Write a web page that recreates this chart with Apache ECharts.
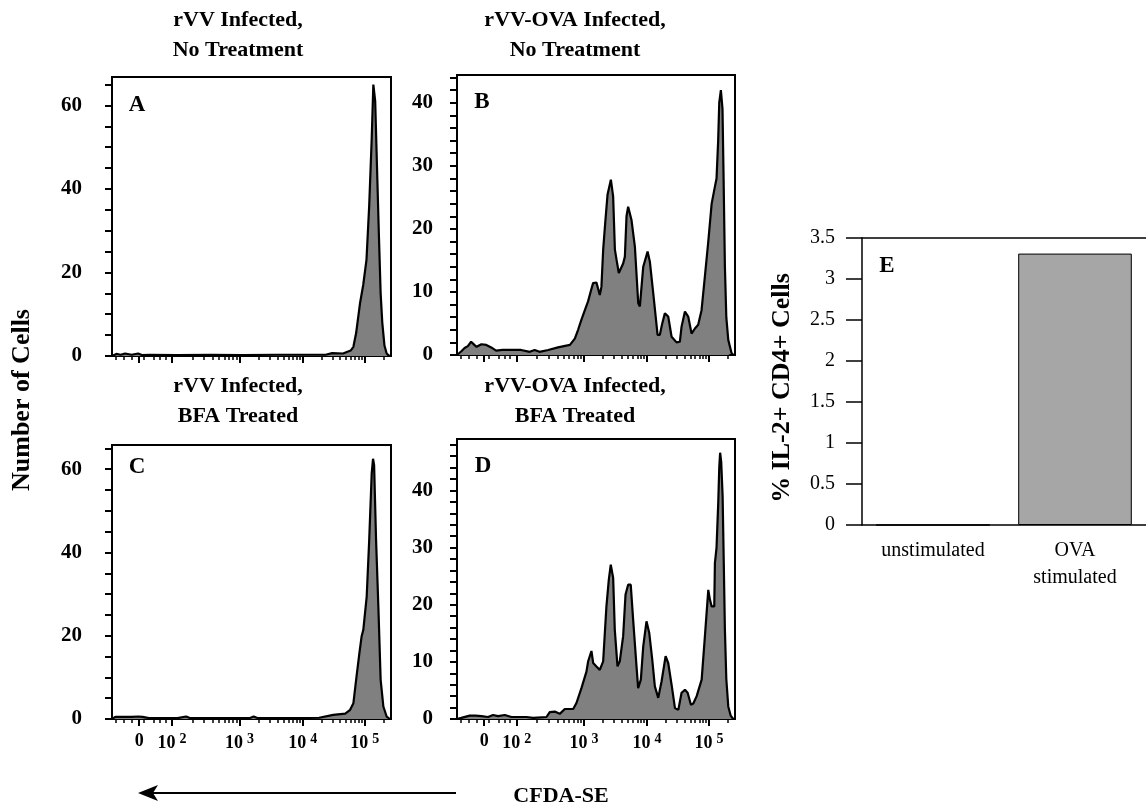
<!DOCTYPE html>
<html>
<head>
<meta charset="utf-8">
<script src="https://cdn.jsdelivr.net/npm/echarts@6.0.0/dist/echarts.min.js"></script>
<style>
  html, body { margin: 0; padding: 0; background: #fff; }
  #chart { width: 1146px; height: 808px; }
</style>
</head>
<body>
<div id="chart"></div>
<script>
// CFDA-SE histograms: [display channel (0-256), number of cells]
const histA = [[0, 0], [4, 0.5], [8, 0.3], [12, 0.6], [18, 0.3], [24, 0.6], [28, 0.2], [34, 0.3], [60, 0.2], [90, 0.3],
  [120, 0.2], [150, 0.3], [180, 0.3], [196, 0.3], [202, 0.7], [212, 0.6], [216, 1.0], [219, 1.3], [221.5, 2.2],
  [224, 5.5], [227.5, 12.5], [230.5, 17], [233.5, 23], [236, 36], [238.3, 52], [239.8, 65], [241.5, 61], [243.5, 42],
  [245, 28], [246.5, 15], [248, 8], [250, 2.5], [252, 0.6], [254, 0.1], [256, 0]];

const histB = [[0, 0], [1, 0], [4, 0.6], [7, 1.1], [10, 1.4], [13, 2.1], [16, 1.6], [18, 1.3], [22.5, 1.7], [27, 1.6],
  [31.5, 1.2], [36, 0.7], [42, 0.8], [50, 0.8], [59, 0.8], [67, 0.5], [71.5, 0.8], [76, 0.5], [84, 0.8], [93, 1.2],
  [104, 1.6], [108.5, 2.6], [111.5, 4.0], [114.6, 5.6], [117.5, 7], [120.7, 8.5], [123, 10], [125.3, 11.4],
  [128.4, 11.5], [131.5, 9.5], [133, 10.8], [134.6, 16.7], [136.5, 21], [138.6, 25.4], [141.7, 27.8], [143.8, 25.1],
  [145.4, 16.7], [147.5, 14.5], [149, 13], [150.6, 13], [153, 14.5], [154.6, 15.6], [156.1, 22], [157.6, 23.5],
  [160.7, 21.4], [163.8, 17.2], [166.9, 8.2], [168.4, 7.7], [171.5, 14], [175.5, 16.4], [177.6, 14.8], [180.7, 9.8],
  [184.7, 3.2], [186.8, 3.2], [189, 5], [191.4, 6.6], [194.5, 6.1], [197.6, 2.9], [202.2, 2.0], [205.2, 2.1],
  [206.8, 4.5], [209.9, 6.9], [212.9, 6.1], [216, 3.4], [219.1, 4.2], [222.1, 4.8], [225.2, 7.1], [228.3, 12.5],
  [231.4, 18], [234.5, 24], [237.5, 26.7], [239, 28], [240.5, 34], [241.5, 40], [243, 42], [244.5, 39], [245.5, 28],
  [246.7, 14], [248, 6], [249.8, 2.4], [252.8, 0.3], [254.5, 0]];

const histC = [[0, 0], [3, 0.5], [10, 0.5], [18, 0.5], [24, 0.6], [28, 0.5], [34, 0.2], [60, 0.2], [68, 0.6], [72, 0.2],
  [100, 0.2], [126, 0.2], [130, 0.6], [134, 0.2], [170, 0.2], [190, 0.3], [203, 1], [214, 1.3], [218.5, 2.2],
  [221.5, 3.8], [224, 9.4], [227, 15.8], [229, 19.8], [230.6, 21.4], [233.7, 29.4], [236, 43], [238.3, 59],
  [239.5, 62.5], [240.5, 61], [242.3, 43], [244.4, 27], [246.5, 9.4], [249, 3], [252, 0.6], [255, 0], [256, 0]];

const histD = [[0, 0], [4, 0.2], [11.7, 0.6], [17, 0.6], [22.5, 0.5], [28.6, 0.35], [33.2, 0.7], [37.8, 0.5], [44, 0.7],
  [50.1, 0.35], [64, 0.35], [70.1, 0.2], [82.4, 0.35], [85.4, 1.2], [90, 1.3], [94.6, 0.9], [99.3, 1.75], [107, 1.75],
  [110, 2.8], [114.6, 5.4], [119.2, 8.3], [120.8, 10.1], [123.8, 11.9], [125.4, 9.8], [128.4, 9.2], [131.5, 8.6],
  [134.6, 10.1], [137.6, 19.7], [139.8, 24.4], [141.6, 27], [143.8, 24.7], [145.3, 15.6], [147.8, 9.2], [149.9, 10.1],
  [153, 14.5], [155.2, 21.8], [157.6, 23.5], [160, 23.5], [162.2, 17.4], [165.3, 9.2], [166.8, 5.4], [169.3, 6.9],
  [171.5, 12.7], [174.5, 17.1], [177, 15.1], [179.8, 10.4], [182.2, 5.7], [185.3, 3.7], [188.4, 6.6], [192.1, 11],
  [194.5, 9.8], [197.6, 6], [200.7, 1.9], [203.8, 1.6], [206.8, 4.6], [209.9, 5.1], [212.4, 4.6], [215.4, 2.5],
  [217.6, 2.7], [220.7, 4], [225.3, 6.9], [228.3, 14.5], [231.4, 22.6], [232.9, 20.9], [234.5, 19.7], [236.9, 19.7],
  [237.5, 27.3], [239, 30], [240.6, 38], [241.5, 44], [242.3, 46.6], [243.3, 45], [244.6, 39], [245.6, 28],
  [246.7, 15.6], [248, 7], [249.8, 2.2], [252, 0.6], [254.4, 0]];

// x axis: biexponential display, channel of each decade label
const xTickCh = [25, 55, 117, 175, 232];
const xTickLabels = ['0', '10^2', '10^3', '10^4', '10^5'];

// panel E
const eCategories = ['unstimulated', 'OVA\nstimulated'];
const eValues = [0, 3.31];

const FONT = '"Liberation Serif", "Times New Roman", serif';

// minor ticks: linear part near zero, then log steps inside each decade
const xMinorCh = [3, 11, 18, 29, 38, 44, 49];
for (let d = 1; d < xTickCh.length - 1; d++) {
  const span = xTickCh[d + 1] - xTickCh[d];
  for (let k = 2; k <= 9; k++) xMinorCh.push(xTickCh[d] + Math.log10(k) * span);
}
xMinorCh.push(xTickCh[4] + Math.log10(2) * (xTickCh[4] - xTickCh[3]));

function steps(step, max) {
  const out = [];
  for (let v = 0; v <= max + 1e-9; v += step) out.push(v);
  return out;
}

function xLabel(v) {
  const i = xTickCh.findIndex(c => Math.abs(c - v) < 0.01);
  if (i < 0) return '';
  const parts = xTickLabels[i].split('^');
  return parts.length > 1 ? '{n|' + parts[0] + '}{s|' + parts[1] + '}' : '{n|' + parts[0] + '}';
}

const panels = [
  { data: histA, left: 112, top: 77, width: 279, height: 279, yMax: 66.8, major: 20, minor: 5, xLabels: false, lm: 30 },
  { data: histB, left: 457, top: 75, width: 278, height: 280, yMax: 44.4, major: 10, minor: 2, xLabels: false, lm: 24 },
  { data: histC, left: 112, top: 445, width: 279, height: 274, yMax: 65.8, major: 20, minor: 5, xLabels: true, lm: 30 },
  { data: histD, left: 457, top: 439, width: 278, height: 280, yMax: 49, major: 10, minor: 2, xLabels: true, lm: 24 }
];

const grid = [], xAxis = [], yAxis = [], series = [];

panels.forEach((p, i) => {
  grid.push({ left: p.left, top: p.top, width: p.width, height: p.height,
    show: true, borderColor: '#000', borderWidth: 2, backgroundColor: 'transparent' });
  xAxis.push({
    type: 'value', gridIndex: i, min: 0, max: 256, position: 'bottom',
    axisLine: { onZero: false, lineStyle: { color: '#000', width: 2 } },
    axisTick: { customValues: xTickCh, length: 7, lineStyle: { color: '#000', width: 2 } },
    axisLabel: {
      show: p.xLabels, customValues: xTickCh, margin: 13, formatter: xLabel,
      rich: {
        n: { fontFamily: FONT, fontWeight: 'bold', fontSize: 18, color: '#000' },
        s: { fontFamily: FONT, fontWeight: 'bold', fontSize: 14, color: '#000', padding: [0, 0, 9, 4] }
      }
    },
    splitLine: { show: false }
  });
  xAxis.push({
    type: 'value', gridIndex: i, min: 0, max: 256, position: 'bottom',
    axisLine: { show: false },
    axisTick: { customValues: xMinorCh, length: 4, lineStyle: { color: '#000', width: 1.5 } },
    axisLabel: { show: false },
    splitLine: { show: false }
  });
  yAxis.push({
    type: 'value', gridIndex: i, min: 0, max: p.yMax,
    axisLine: { lineStyle: { color: '#000', width: 2 } },
    axisTick: { customValues: steps(p.minor, p.yMax), length: 7, lineStyle: { color: '#000', width: 2 } },
    axisLabel: {
      customValues: steps(p.major, p.yMax), margin: p.lm,
      fontFamily: FONT, fontWeight: 'bold', fontSize: 21, color: '#000'
    },
    splitLine: { show: false }
  });
  series.push({
    type: 'line', xAxisIndex: 2 * i, yAxisIndex: i, data: p.data,
    showSymbol: false, symbol: 'none', silent: true,
    lineStyle: { color: '#000', width: 2.2 },
    areaStyle: { color: '#808080', opacity: 1 }
  });
});

// panel E
grid.push({ left: 862, top: 238, width: 290, height: 287 });
xAxis.push({
  type: 'category', gridIndex: 4, data: eCategories, position: 'bottom',
  axisLine: { lineStyle: { color: '#000', width: 1.5 } },
  axisTick: { length: 7, lineStyle: { color: '#000', width: 1.5 } },
  axisLabel: { fontFamily: FONT, fontSize: 20, color: '#000', lineHeight: 27, margin: 12 }
});
xAxis.push({
  type: 'category', gridIndex: 4, data: eCategories, position: 'top',
  axisLine: { lineStyle: { color: '#000', width: 1.5 } },
  axisTick: { show: false }, axisLabel: { show: false }
});
yAxis.push({
  type: 'value', gridIndex: 4, min: 0, max: 3.5, interval: 0.5,
  axisLine: { show: true, lineStyle: { color: '#000', width: 1.5 } },
  axisTick: { show: true, length: 16, lineStyle: { color: '#000', width: 1.5 } },
  axisLabel: { fontFamily: FONT, fontSize: 20, color: '#000', margin: 27 },
  splitLine: { show: false }
});
series.push({
  type: 'bar', xAxisIndex: 8, yAxisIndex: 4, data: eValues, barWidth: '80%', silent: true,
  itemStyle: { color: '#a6a6a6', borderColor: '#000', borderWidth: 1 }
});

function txt(x, y, text, size, extra) {
  return Object.assign({
    type: 'text', x: x, y: y, silent: true,
    style: { text: text, fontFamily: FONT, fontWeight: 'bold', fontSize: size, fill: '#000',
      align: 'center', verticalAlign: 'middle', lineHeight: 30 }
  }, extra || {});
}

const graphic = [
  txt(238, 35, 'rVV Infected,\nNo Treatment', 22),
  txt(575, 35, 'rVV-OVA Infected,\nNo Treatment', 22),
  txt(238, 401, 'rVV Infected,\nBFA Treated', 22),
  txt(575, 401, 'rVV-OVA Infected,\nBFA Treated', 22),
  txt(137, 105, 'A', 23), txt(482, 102, 'B', 23),
  txt(137, 467, 'C', 23), txt(483, 466, 'D', 23),
  txt(887, 266, 'E', 23),
  txt(22, 400, 'Number of Cells', 26, { rotation: Math.PI / 2 }),
  txt(782, 388, '% IL-2+ CD4+ Cells', 26, { rotation: Math.PI / 2 }),
  txt(561, 796, 'CFDA-SE', 22),
  { type: 'line', silent: true, shape: { x1: 150, y1: 793, x2: 456, y2: 793 },
    style: { stroke: '#000', lineWidth: 2 } },
  { type: 'polygon', silent: true, shape: { points: [[138, 793], [158, 785], [153, 793], [158, 801]] },
    style: { fill: '#000' } }
];

const chart = echarts.init(document.getElementById('chart'), null, { renderer: 'canvas' });
chart.setOption({
  animation: false,
  backgroundColor: '#fff',
  grid: grid, xAxis: xAxis, yAxis: yAxis, series: series, graphic: graphic
});
</script>
</body>
</html>
